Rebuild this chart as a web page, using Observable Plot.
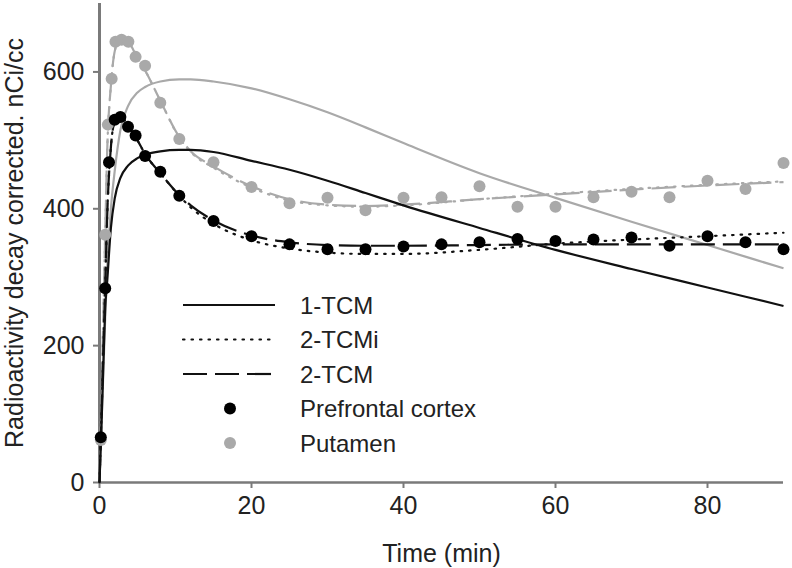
<!DOCTYPE html>
<html>
<head>
<meta charset="utf-8">
<script src="https://cdn.jsdelivr.net/npm/d3@7"></script>
<script src="https://cdn.jsdelivr.net/npm/@observablehq/plot@0.6"></script>
<style>
  body { margin: 0; background: #fff; }
  #chart { position: relative; width: 792px; height: 568px; font-family: "Liberation Sans", Arial, sans-serif; }
  #legend { position: absolute; left: 0; top: 0; pointer-events: none; }
</style>
</head>
<body>
<div id="chart"></div>
<script>
// measured time points (min)
const pfcTime = [0.17, 0.75, 1.25, 2, 2.75, 3.75, 4.75, 6, 8, 10.5,
  15, 20, 25, 30, 35, 40, 45, 50, 55, 60, 65, 70, 75, 80, 85, 90];
const pfcValue = [66, 284, 468, 530, 534, 520, 507, 477, 454, 419,
  382, 360, 348, 341, 341, 345, 348, 351, 356, 353, 355, 358, 346, 360, 351, 341];

const putTime = [0.17, 0.75, 1.1, 1.6, 2.1, 2.9, 3.8, 4.75, 6, 8, 10.5,
  15, 20, 25, 30, 35, 40, 45, 50, 55, 60, 65, 70, 75, 80, 85, 90];
const putValue = [62, 362, 523, 590, 644, 647, 644, 622, 609, 555, 502,
  468, 432, 408, 416, 398, 416, 417, 433, 403, 403, 417, 425, 417, 441, 429, 467];

// model fits, read at these times
const fitTime = [0, 0.25, 0.5, 0.75, 1, 1.5, 2, 2.75, 3.75, 5, 6, 8, 10.5, 12,
  15, 20, 25, 30, 35, 40, 50, 60, 70, 80, 90];

const pfc1TCM  = [0, 80, 170, 255, 292, 372, 415, 445, 463, 474, 479, 484, 486, 486,
  483, 470, 457, 441, 423, 405, 372, 340, 312, 285, 258];
const pfc2TCMi = [0, 95, 190, 284, 385, 490, 527, 535, 522, 500, 480, 452, 419, 402,
  378, 354, 342, 336, 334, 334, 340, 349, 355, 360, 365];
const pfc2TCM  = [0, 95, 190, 284, 385, 490, 527, 535, 522, 500, 480, 452, 420, 405,
  383, 361, 351, 347, 346, 346, 347, 348, 348, 348, 348];

const put1TCM  = [0, 80, 160, 240, 310, 400, 455, 515, 550, 570, 578, 586, 589, 589,
  586, 576, 560, 541, 519, 496, 452, 416, 381, 347, 313];
const put2TCMi = [0, 120, 240, 362, 480, 580, 630, 650, 645, 620, 602, 558, 504, 483,
  460, 431, 412, 405, 403, 405, 414, 422, 429, 435, 440];
const put2TCM  = [0, 120, 240, 362, 480, 580, 630, 650, 645, 620, 602, 558, 505, 484,
  462, 433, 414, 406, 404, 406, 414, 421, 428, 434, 439];

const xTicks = [0, 20, 40, 60, 80];
const yTicks = [0, 200, 400, 600];

const legendLabels = ["1-TCM", "2-TCMi", "2-TCM", "Prefrontal cortex", "Putamen"];

const black = "#111";
const grey = "#a9a9a9";
const axisGrey = "#7a7a7a";
const dotted = "1.5,7";
const dashed = "24,8";

const pts = (t, v) => t.map((d, i) => ({t: d, v: v[i]}));

const lineOpts = (stroke, dash) => ({
  x: "t", y: "v", stroke, strokeWidth: 2.2, curve: "monotone-x",
  strokeDasharray: dash, strokeLinecap: dash === dotted ? "round" : "butt"
});

const chart = Plot.plot({
  width: 792,
  height: 568,
  marginLeft: 99,
  marginRight: 9,
  marginTop: 3,
  marginBottom: 86,
  style: {fontFamily: "Liberation Sans, Arial, sans-serif", fontSize: "25px", color: "#222", background: "#fff"},
  x: {domain: [0, 90]},
  y: {domain: [0, 700]},
  marks: [
    Plot.axisX({ticks: xTicks, tickSize: 6, tickPadding: 8, stroke: axisGrey, strokeWidth: 2,
      fontSize: 25, label: "Time (min)", labelAnchor: "center", labelArrow: "none", labelOffset: 79}),
    Plot.axisY({ticks: yTicks, tickSize: 6, tickPadding: 9, stroke: axisGrey, strokeWidth: 2,
      fontSize: 25, label: "Radioactivity decay corrected. nCi/cc", labelAnchor: "center",
      labelArrow: "none", labelOffset: 94}),
    Plot.ruleY([0], {stroke: axisGrey, strokeWidth: 2.5}),
    Plot.ruleX([0], {stroke: axisGrey, strokeWidth: 3}),

    Plot.line(pts(fitTime, put1TCM), lineOpts(grey)),
    Plot.line(pts(fitTime, put2TCMi), lineOpts(grey, dotted)),
    Plot.line(pts(fitTime, put2TCM), lineOpts(grey, dashed)),
    Plot.line(pts(fitTime, pfc1TCM), lineOpts(black)),
    Plot.line(pts(fitTime, pfc2TCMi), lineOpts(black, dotted)),
    Plot.line(pts(fitTime, pfc2TCM), lineOpts(black, dashed)),

    Plot.dot(pts(putTime, putValue), {x: "t", y: "v", r: 6, fill: grey}),
    Plot.dot(pts(pfcTime, pfcValue), {x: "t", y: "v", r: 6, fill: "#000"})
  ]
});

const holder = d3.select("#chart");
holder.append(() => chart);

// legend drawn on top, inside the plot area
const legendStyles = [
  {type: "line", stroke: black, dash: null},
  {type: "line", stroke: black, dash: dotted},
  {type: "line", stroke: black, dash: dashed},
  {type: "dot", fill: "#000"},
  {type: "dot", fill: grey}
];

const leg = holder.append("svg")
  .attr("id", "legend")
  .attr("width", 792)
  .attr("height", 568);

const row = leg.selectAll("g")
  .data(legendLabels)
  .join("g")
  .attr("transform", (d, i) => `translate(183,${305 + i * 34.5})`);

row.each(function(d, i) {
  const g = d3.select(this);
  const s = legendStyles[i];
  if (s.type === "line") {
    g.append("line")
      .attr("x1", 0).attr("x2", 92)
      .attr("stroke", s.stroke).attr("stroke-width", 2.2)
      .attr("stroke-dasharray", s.dash)
      .attr("stroke-linecap", s.dash === dotted ? "round" : "butt");
  } else {
    g.append("circle").attr("cx", 47).attr("r", 6).attr("fill", s.fill);
  }
  g.append("text")
    .attr("x", 117)
    .attr("dy", "0.36em")
    .attr("font-size", 24)
    .attr("font-family", "Liberation Sans, Arial, sans-serif")
    .attr("fill", "#222")
    .text(d);
});
</script>
</body>
</html>
